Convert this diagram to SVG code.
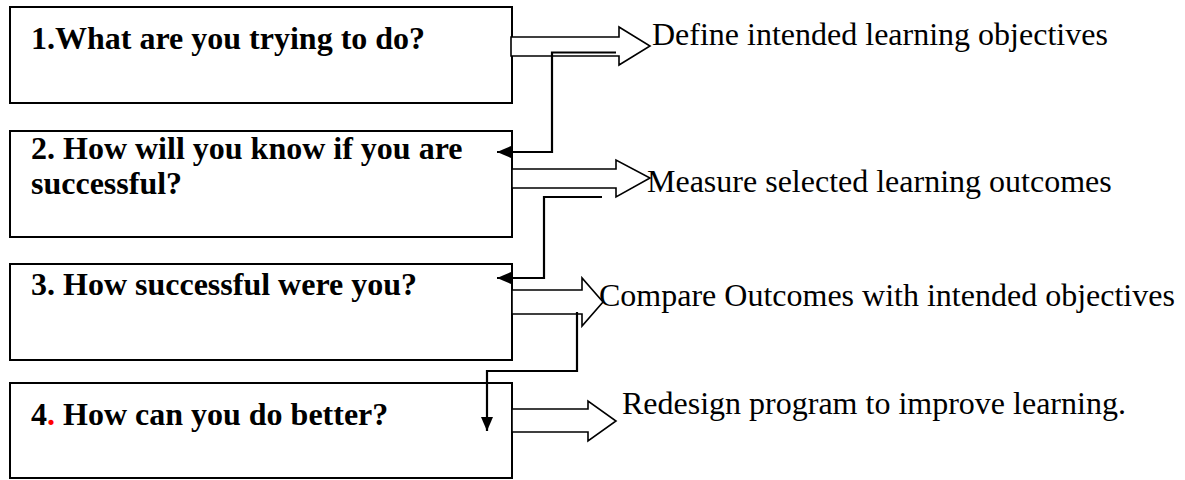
<svg xmlns="http://www.w3.org/2000/svg" width="1185" height="480" viewBox="0 0 1185 480">
<style>
.box{fill:#fff;stroke:#000;stroke-width:2}
.q{font-family:"Liberation Serif","Times New Roman",serif;font-weight:bold;font-size:32px;fill:#000}
.a{font-family:"Liberation Serif","Times New Roman",serif;font-size:32px;fill:#000}
.blk{fill:#fff;stroke:#000;stroke-width:1.6;stroke-linejoin:miter}
.con{fill:none;stroke:#000;stroke-width:2.2}
</style>
<defs>
<marker id="ah" viewBox="0 0 14 12" refX="14" refY="6" markerWidth="14" markerHeight="12" orient="auto" markerUnits="userSpaceOnUse">
<path d="M0,0 L14,6 L0,12 z" fill="#000"/>
</marker>
</defs>
<g id="node1"><rect class="box" x="10" y="7" width="502" height="96"/><text class="q" x="31" y="49">1.What are you trying to do?</text></g>
<g id="node2"><rect class="box" x="10" y="131" width="502" height="106"/><text class="q" x="31" y="159">2. How will you know if you are</text><text class="q" x="31" y="194">successful?</text></g>
<g id="node3"><rect class="box" x="10" y="264" width="502" height="96"/><text class="q" x="31" y="295">3. How successful were you?</text></g>
<g id="node4"><rect class="box" x="10" y="383" width="502" height="95"/><text class="q" x="31" y="425">4<tspan fill="#ff0000">.</tspan> How can you do better?</text></g>
<g id="out1"><text class="a" x="652" y="45">Define intended learning objectives</text></g>
<g id="out2"><text class="a" x="647" y="192">Measure selected learning outcomes</text></g>
<g id="out3"><text class="a" x="599" y="306">Compare Outcomes with intended objectives</text></g>
<g id="out4"><text class="a" x="622" y="414">Redesign program to improve learning.</text></g>
<g id="connectors">
<polygon class="blk" points="511,37 619,37 619,27 650,46 619,65 619,56 511,56"/>
<polygon class="blk" points="512,169 616,169 616,160 650,178 616,197 616,188 512,188"/>
<polygon class="blk" points="512,290 582,290 582,278 603,302 582,326 582,314 512,314"/>
<polygon class="blk" points="512,409 588,409 588,401 616,421 588,441 588,432 512,432"/>
<path class="con" d="M616,52.5 H552 V152 H497" marker-end="url(#ah)"/>
<path class="con" d="M602,197 H544 V278 H497" marker-end="url(#ah)"/>
<path class="con" d="M577,312 V371 H487 V431" marker-end="url(#ah)"/>
</g>
</svg>
